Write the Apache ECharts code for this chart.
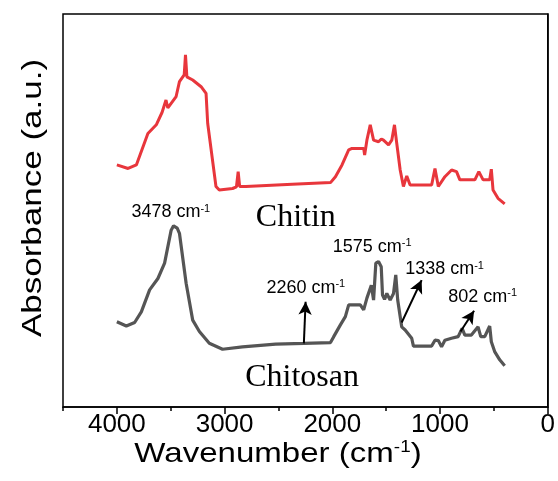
<!DOCTYPE html>
<html>
<head>
<meta charset="utf-8">
<script src="https://cdn.jsdelivr.net/npm/echarts@6/dist/echarts.min.js"></script>
<style>
  html, body { margin: 0; padding: 0; background: #fff; }
  #main { width: 558px; height: 481px; }
</style>
</head>
<body>
<div id="main"></div>
<script>
// FTIR spectra: wavenumber (cm-1) vs absorbance (a.u.)
const chitinWn = [4000, 3896, 3819, 3712, 3634, 3580, 3544, 3527, 3450, 3419, 3375, 3363, 3350, 3296, 3218, 3172, 3157, 3080, 3049, 2926, 2890, 2874, 2860, 2803, 2372, 2017, 1971, 1910, 1848, 1817, 1709, 1700, 1679, 1648, 1617, 1571, 1545, 1525, 1478, 1448, 1423, 1402, 1370, 1340, 1309, 1278, 1078, 1047, 1016, 955, 893, 847, 816, 677, 640, 600, 539, 524, 508, 462, 400];
const chitinAbs = [61.6, 60.7, 61.6, 69.6, 71.8, 75.0, 78.1, 76.1, 79.0, 82.8, 84.5, 89.6, 84.0, 83.2, 81.5, 79.8, 72.2, 56.1, 55.2, 55.6, 56.0, 59.9, 56.1, 56.1, 56.7, 57.1, 58.6, 61.6, 65.4, 65.8, 65.8, 64.1, 67.9, 71.8, 67.9, 67.5, 68.2, 67.9, 66.7, 67.9, 71.8, 67.1, 60.3, 56.1, 58.8, 56.5, 56.5, 60.7, 56.1, 58.6, 60.3, 59.9, 57.8, 57.8, 59.9, 57.8, 57.8, 60.5, 55.2, 53.1, 51.7];

const chitosanWn = [4000, 3912, 3835, 3773, 3696, 3619, 3557, 3496, 3474, 3440, 3419, 3357, 3296, 3234, 3142, 3019, 2834, 2526, 2264, 2017, 1987, 1925, 1879, 1848, 1740, 1709, 1679, 1638, 1617, 1596, 1571, 1546, 1534, 1515, 1494, 1463, 1432, 1411, 1393, 1356, 1324, 1263, 1247, 1078, 1047, 1016, 986, 955, 894, 832, 795, 770, 709, 647, 622, 585, 539, 524, 493, 446, 400];
const chitosanAbs = [21.7, 20.6, 21.5, 24.2, 29.8, 32.7, 36.6, 45.0, 46.1, 45.5, 44.2, 31.5, 22.1, 19.2, 16.2, 14.7, 15.3, 16.0, 16.2, 16.4, 17.9, 20.9, 23.0, 26.0, 26.0, 24.7, 27.7, 31.0, 27.2, 36.6, 37.0, 35.7, 28.5, 27.4, 28.9, 27.2, 28.9, 33.6, 27.2, 20.4, 19.6, 17.5, 15.5, 15.5, 17.0, 16.9, 15.3, 17.0, 17.5, 17.9, 20.0, 18.3, 18.3, 20.4, 17.9, 17.9, 20.6, 16.6, 14.1, 12.0, 10.5];

const xTickLabels = ['0', '1000', '2000', '3000', '4000'];

// peak labels and where they sit (left edge, middle of the text)
const peakNames = ['3478', '1575', '2260', '1338', '802'];
const peakTextWn = [3865, 1996, 2612, 1324, 924];
const peakTextAbs = [49.6, 40.8, 30.3, 35.0, 28.0];

// arrows pointing at the chitosan bands
const arrowFrom = [[2264, 16.2], [1356, 21.5], [810, 19.2]];
const arrowTo = [[2248, 26.8], [1171, 32.3], [684, 24.5]];

const sampleNames = ['Chitin', 'Chitosan'];
const sampleWn = [2710, 2809];
const sampleAbs = [48.2, 7.5];

const zip = (xs, ys) => xs.map((x, i) => [x, ys[i]]);

const chart = echarts.init(document.getElementById('main'));

const option = {
  animation: false,
  backgroundColor: '#fff',
  grid: { left: 63, right: 8, top: 14, bottom: 74, show: true, borderColor: '#000', borderWidth: 1.5 },
  xAxis: [
    {
      type: 'value', min: 0, max: 4500, interval: 1000, inverse: true,
      axisLine: { lineStyle: { color: '#000', width: 1.5 } },
      axisTick: { length: 7, lineStyle: { color: '#000', width: 1.5 } },
      axisLabel: {
        showMaxLabel: false, color: '#000', fontSize: 26, fontFamily: 'Liberation Sans', margin: 5,
        formatter: v => xTickLabels[v / 1000] || ''
      },
      splitLine: { show: false }
    },
    {
      type: 'value', position: 'bottom', min: 0, max: 4500, interval: 500, inverse: true,
      axisLine: { show: false },
      axisTick: { length: 4, lineStyle: { color: '#000', width: 1.5 } },
      axisLabel: { show: false },
      splitLine: { show: false }
    }
  ],
  yAxis: {
    type: 'value', min: 0, max: 100,
    axisLine: { show: true, lineStyle: { color: '#000', width: 1.5 } },
    axisTick: { show: false },
    axisLabel: { show: false },
    splitLine: { show: false }
  },
  series: [
    {
      name: 'Chitin', type: 'line', showSymbol: false,
      data: zip(chitinWn, chitinAbs),
      lineStyle: { color: '#e8363c', width: 3 },
      itemStyle: { color: '#e8363c' }
    },
    {
      name: 'Chitosan', type: 'line', showSymbol: false,
      data: zip(chitosanWn, chitosanAbs),
      lineStyle: { color: '#555555', width: 3.2 },
      itemStyle: { color: '#555555' },
      markLine: {
        silent: true,
        symbol: ['none', 'arrow'],
        symbolSize: [10, 13],
        lineStyle: { color: '#000', width: 2, type: 'solid' },
        label: { show: false },
        data: arrowFrom.map((a, i) => [{ coord: a }, { coord: arrowTo[i] }])
      }
    }
  ]
};
chart.setOption(option);

// text annotations placed through the grid's own scales
const sup = { fontSize: 11, verticalAlign: 'top', fontFamily: 'Liberation Sans', fill: '#000' };
const graphics = [];
peakNames.forEach((n, i) => {
  const p = chart.convertToPixel({ gridIndex: 0 }, [peakTextWn[i], peakTextAbs[i]]);
  graphics.push({
    type: 'text', x: p[0], y: p[1],
    style: {
      text: n + ' cm{s|-1}', fill: '#000', font: '18px "Liberation Sans"',
      align: 'left', verticalAlign: 'middle', rich: { s: sup }
    }
  });
});
sampleNames.forEach((n, i) => {
  const p = chart.convertToPixel({ gridIndex: 0 }, [sampleWn[i], sampleAbs[i]]);
  graphics.push({
    type: 'text', x: p[0], y: p[1],
    style: { text: n, fill: '#000', font: '32px "Liberation Serif"', align: 'left', verticalAlign: 'middle' }
  });
});
// axis titles (the source figure's lettering is a little wider than Arial)
graphics.push({
  type: 'text', x: 278, y: 454, scaleX: 1.18,
  style: {
    text: 'Wavenumber (cm{s|-1})', fill: '#000', font: '28px "Liberation Sans"',
    align: 'center', verticalAlign: 'middle',
    rich: { s: { fontSize: 16, verticalAlign: 'top', fontFamily: 'Liberation Sans', fill: '#000' } }
  }
});
graphics.push({
  type: 'text', x: 33, y: 198, rotation: Math.PI / 2, scaleX: 1.25,
  style: { text: 'Absorbance (a.u.)', fill: '#000', font: '28px "Liberation Sans"', align: 'center', verticalAlign: 'middle' }
});
chart.setOption({ graphic: graphics });
</script>
</body>
</html>
